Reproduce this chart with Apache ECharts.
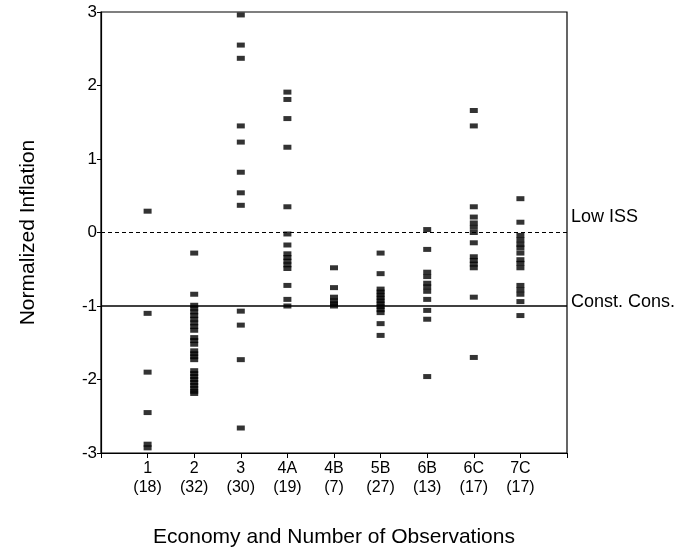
<!DOCTYPE html>
<html>
<head>
<meta charset="utf-8">
<script src="https://cdn.jsdelivr.net/npm/echarts@6/dist/echarts.min.js"></script>
<style>
  html, body { margin: 0; padding: 0; background: #fff; }
  #chart { width: 678px; height: 553px; }
</style>
</head>
<body>
<div id="chart"></div>
<script>
// Economies (x positions 1..9) and their observation counts
const economies = ['1', '2', '3', '4A', '4B', '5B', '6B', '6C', '7C'];
const observations = [18, 32, 30, 19, 7, 27, 13, 17, 17];

// Normalized inflation per economy
const econ1 = [0.29, -1.10, -1.90, -2.45, -2.88, -2.93];
const econ2 = [-0.28, -0.84, -0.99, -1.03, -1.08, -1.13, -1.18, -1.23, -1.28, -1.33,
  -1.43, -1.47, -1.52, -1.61, -1.65, -1.69, -1.73,
  -1.88, -1.92, -1.96, -2.00, -2.04, -2.08, -2.12, -2.16, -2.19];
const econ3 = [2.96, 2.55, 2.37, 1.45, 1.23, 0.82, 0.54, 0.37, -1.07, -1.26, -1.73, -2.66];
const econ4A = [1.91, 1.81, 1.55, 1.16, 0.35, -0.02, -0.17, -0.29, -0.34, -0.39, -0.44, -0.49, -0.72, -0.91, -1.00];
const econ4B = [-0.48, -0.75, -0.88, -0.93, -0.97, -1.00];
const econ5B = [-0.28, -0.56, -0.77, -0.81, -0.85, -0.89, -0.93, -0.97, -1.01, -1.05, -1.09, -1.24, -1.40];
const econ6B = [0.04, -0.23, -0.54, -0.60, -0.69, -0.74, -0.80, -0.91, -1.06, -1.18, -1.96];
const econ6C = [1.66, 1.45, 0.35, 0.21, 0.13, 0.07, 0.00, -0.14, -0.33, -0.38, -0.43, -0.48, -0.88, -1.70];
const econ7C = [0.46, 0.14, -0.04, -0.10, -0.16, -0.21, -0.28, -0.37, -0.42, -0.48, -0.72, -0.78, -0.84, -0.94, -1.13];

// Reference levels
const refLines = [
  { name: 'Low ISS', value: 0 },
  { name: 'Const. Cons.', value: -1 }
];

const yTicks = [-3, -2, -1, 0, 1, 2, 3];

const allSeries = [econ1, econ2, econ3, econ4A, econ4B, econ5B, econ6B, econ6C, econ7C];
const points = [];
allSeries.forEach((vals, i) => vals.forEach(v => points.push([i + 1, v])));

const FONT = 'Liberation Sans, Arial, Helvetica, sans-serif';

const chart = echarts.init(document.getElementById('chart'), null, { renderer: 'canvas' });
chart.setOption({
  animation: false,
  backgroundColor: '#fff',
  grid: { left: 101, right: 111, top: 12, bottom: 97, show: true, borderColor: '#000', borderWidth: 1.2, backgroundColor: 'transparent' },
  xAxis: {
    type: 'value',
    min: 0, max: 10, interval: 1,
    name: 'Economy and Number of Observations',
    nameLocation: 'middle',
    nameGap: 74,
    nameTextStyle: { fontFamily: FONT, fontSize: 21, color: '#000' },
    axisLine: { onZero: false, lineStyle: { color: '#000', width: 1.2 } },
    axisTick: { show: true, length: 5, lineStyle: { color: '#000' } },
    splitLine: { show: false },
    axisLabel: {
      fontFamily: FONT, fontSize: 16, color: '#000', lineHeight: 19, margin: 6,
      formatter: v => (v >= 1 && v <= economies.length) ? economies[v - 1] + '\n(' + observations[v - 1] + ')' : ''
    }
  },
  yAxis: {
    type: 'value',
    min: -3, max: 3, interval: 1,
    name: 'Normalized Inflation',
    nameLocation: 'middle',
    nameGap: 62,
    nameTextStyle: { fontFamily: FONT, fontSize: 21, color: '#000' },
    axisLine: { onZero: false, lineStyle: { color: '#000', width: 1.2 } },
    axisTick: { show: true, length: 4, lineStyle: { color: '#000' } },
    splitLine: { show: false },
    axisLabel: {
      fontFamily: FONT, fontSize: 17, color: '#000', margin: 4,
      formatter: v => yTicks.includes(v) ? String(v) : ''
    }
  },
  series: [{
    type: 'scatter',
    symbol: 'rect',
    symbolSize: [8, 5],
    itemStyle: { color: '#000' },
    data: points,
    markLine: {
      silent: true,
      symbol: 'none',
      data: [
        { yAxis: refLines[0].value, name: refLines[0].name,
          lineStyle: { type: [4, 3], color: '#000', width: 1 },
          label: { formatter: refLines[0].name, position: 'end', offset: [0, -15] } },
        { yAxis: refLines[1].value, name: refLines[1].name,
          lineStyle: { type: 'solid', color: '#000', width: 1.5 },
          label: { formatter: refLines[1].name, position: 'end', offset: [0, -4] } }
      ],
      label: { fontFamily: FONT, fontSize: 18, color: '#000', distance: 4 }
    }
  }]
});
</script>
</body>
</html>
